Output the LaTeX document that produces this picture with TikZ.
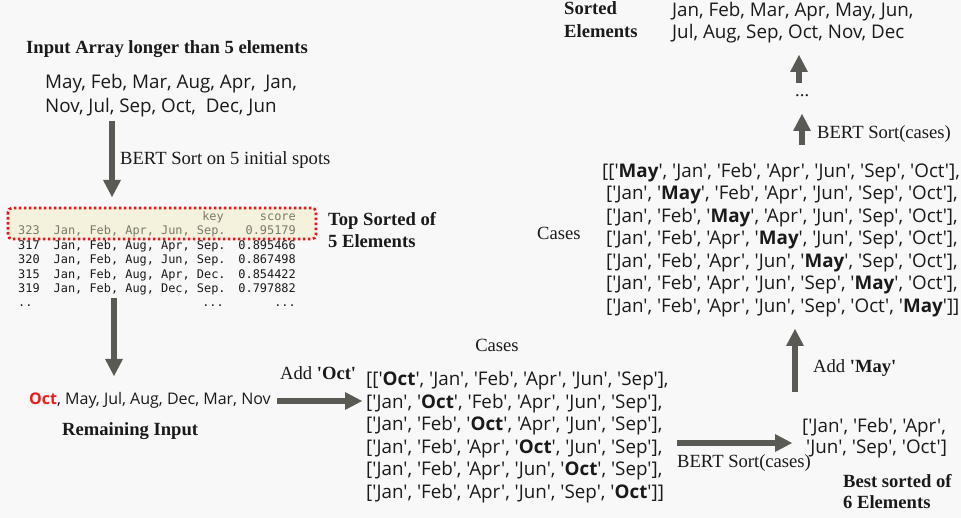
\documentclass[tikz,border=0pt]{standalone}
\usepackage{fontspec}
\setmainfont[Ligatures=TeXOff]{Liberation Serif}
\newfontfamily\listfont[Ligatures=TeXOff]{Open Sans}
\newfontfamily\tblfont[Ligatures=TeXOff]{DejaVu Sans Mono}
\usetikzlibrary{arrows.meta}
\definecolor{bg}{HTML}{F8F8F8}
\definecolor{ink}{HTML}{1A1A1A}
\definecolor{arrowgray}{HTML}{5A5A55}
\definecolor{octred}{HTML}{EE1C1C}
\definecolor{hlfill}{HTML}{F4F2DC}
\definecolor{hltext}{HTML}{7A7868}
\definecolor{dotred}{HTML}{E8141C}
\tikzset{
  lbl/.style={inner sep=0pt, anchor=base west, text=ink, font=\fontsize{18.6}{18}\selectfont},
  blbl/.style={lbl, font=\fontsize{18.6}{18}\selectfont\bfseries},
  lst/.style={inner sep=0pt, anchor=base west, text=ink, font=\listfont\fontsize{18.8}{22}\selectfont},
  tbl/.style={inner sep=0pt, anchor=base west, text=ink, font=\tblfont\fontsize{11.9}{14}\selectfont},
  tblr/.style={tbl, anchor=base east},
  bigarrow/.style={draw=arrowgray, line width=6pt, -{Triangle[width=18pt,length=17pt,line width=0pt]}},
  hlbox/.style={draw=dotred, fill=hlfill, line width=2.6pt, dash pattern=on 2.6pt off 2.4pt, rounded corners=4pt}
}
\begin{document}
\begin{tikzpicture}[x=1pt,y=-1pt]
\useasboundingbox (0,0) rectangle (961,518);
\fill[bg] (0,0) rectangle (961,518);

% input
\node[blbl] (title) at (26,54) {Input Array longer than 5 elements};
\node[lst] (in1) at (45,89) {May, Feb, Mar, Aug, Apr,\ \ Jan,};
\node[lst] (in2) at (45,113) {Nov, Jul, Sep, Oct,\ \ Dec, Jun};
\coordinate (a1s) at (112,121);
\coordinate (a1e) at (112,197);
\draw[bigarrow] (a1s) -- (a1e);
\node[lbl] (bs5) at (120,165) {BERT Sort on 5 initial spots};

% table
\draw[hlbox] (8,208) rectangle (316,239);
\node[tblr, text=hltext] (hkey) at (224,221) {key};
\node[tblr, text=hltext] (hscore) at (296,221) {score};
\node[tbl, text=hltext] (i1) at (18,235) {323};
\node[tbl, text=hltext] (m1) at (53.5,235) {Jan, Feb, Apr, Jun, Sep.};
\node[tblr, text=hltext] (s1) at (296,235) {0.95179};
\node[tbl] (i2) at (18,250) {317};
\node[tbl] (m2) at (53.5,250) {Jan, Feb, Aug, Apr, Sep.};
\node[tblr] (s2) at (296,250) {0.895466};
\node[tbl] (i3) at (18,264) {320};
\node[tbl] (m3) at (53.5,264) {Jan, Feb, Aug, Jun, Sep.};
\node[tblr] (s3) at (296,264) {0.867498};
\node[tbl] (i4) at (18,279) {315};
\node[tbl] (m4) at (53.5,279) {Jan, Feb, Aug, Apr, Dec.};
\node[tblr] (s4) at (296,279) {0.854422};
\node[tbl] (i5) at (18,293) {319};
\node[tbl] (m5) at (53.5,293) {Jan, Feb, Aug, Dec, Sep.};
\node[tblr] (s5) at (296,293) {0.797882};
\node[tbl] (i6) at (18,307) {..};
\node[tblr] (m6) at (224,307) {...};
\node[tblr] (s6) at (296,307) {...};
\node[blbl] (top1) at (328,226) {Top Sorted of};
\node[blbl] (top2) at (328,248) {5 Elements};

\coordinate (a2s) at (114,298);
\coordinate (a2e) at (114,376);
\draw[bigarrow] (a2s) -- (a2e);

% remaining
\node[lst, font=\listfont\fontsize{16}{18}\selectfont] (rem) at (29,404) {\textcolor{octred}{\bfseries Oct}, May, Jul, Aug, Dec, Mar, Nov};
\node[blbl] (remlbl) at (62,435) {Remaining Input};
\coordinate (a3s) at (277,401);
\coordinate (a3e) at (362,401);
\draw[bigarrow] (a3s) -- (a3e);
\node[lbl] (addoct) at (280,380) {Add \textbf{'Oct'}};

% cases (oct)
\node[lbl, anchor=base] (cases1) at (497,352) {Cases};
\node[lst] (c1) at (366,385) {[['\textbf{Oct}', 'Jan', 'Feb', 'Apr', 'Jun', 'Sep'],};
\node[lst] (c2) at (366,408) {['Jan', '\textbf{Oct}', 'Feb', 'Apr', 'Jun', 'Sep'],};
\node[lst] (c3) at (366,430) {['Jan', 'Feb', '\textbf{Oct}', 'Apr', 'Jun', 'Sep'],};
\node[lst] (c4) at (366,453) {['Jan', 'Feb', 'Apr', '\textbf{Oct}', 'Jun', 'Sep'],};
\node[lst] (c5) at (366,475) {['Jan', 'Feb', 'Apr', 'Jun', '\textbf{Oct}', 'Sep'],};
\node[lst] (c6) at (366,498) {['Jan', 'Feb', 'Apr', 'Jun', 'Sep', '\textbf{Oct}']]};

\coordinate (a4s) at (677,443);
\coordinate (a4e) at (792,443);
\draw[bigarrow] (a4s) -- (a4e);
\node[lbl] (bsc1) at (677,467) {BERT Sort(cases)};

% best 6
\node[lst] (b1) at (802,432) {['Jan', 'Feb', 'Apr',};
\node[lst] (b2) at (806,453) {'Jun', 'Sep', 'Oct']};
\node[blbl] (best1) at (843,487) {Best sorted of};
\node[blbl] (best2) at (843,508) {6 Elements};

\coordinate (a5s) at (795,392);
\coordinate (a5e) at (795,329);
\draw[bigarrow] (a5s) -- (a5e);
\node[lbl] (addmay) at (813,373) {Add \textbf{'May'}};

% cases (may)
\node[lbl] (cases2) at (537,240) {Cases};
\node[lst] (d1) at (602,178) {[['\textbf{May}', 'Jan', 'Feb', 'Apr', 'Jun', 'Sep', 'Oct'],};
\node[lst] (d2) at (606,200) {['Jan', '\textbf{May}', 'Feb', 'Apr', 'Jun', 'Sep', 'Oct'],};
\node[lst] (d3) at (606,223) {['Jan', 'Feb', '\textbf{May}', 'Apr', 'Jun', 'Sep', 'Oct'],};
\node[lst] (d4) at (606,245) {['Jan', 'Feb', 'Apr', '\textbf{May}', 'Jun', 'Sep', 'Oct'],};
\node[lst] (d5) at (606,268) {['Jan', 'Feb', 'Apr', 'Jun', '\textbf{May}', 'Sep', 'Oct'],};
\node[lst] (d6) at (606,290) {['Jan', 'Feb', 'Apr', 'Jun', 'Sep', '\textbf{May}', 'Oct'],};
\node[lst] (d7) at (606,313) {['Jan', 'Feb', 'Apr', 'Jun', 'Sep', 'Oct', '\textbf{May}']]};

\coordinate (a6s) at (802,145);
\coordinate (a6e) at (802,114);
\draw[bigarrow] (a6s) -- (a6e);
\node[lbl] (bsc2) at (817,139) {BERT Sort(cases)};
\node[lbl] (dots) at (795,97) {...};
\coordinate (a7s) at (799,83);
\coordinate (a7e) at (799,55);
\draw[bigarrow] (a7s) -- (a7e);

% sorted
\node[blbl] (sort1) at (564,15) {Sorted};
\node[blbl] (sort2) at (564,38) {Elements};
\node[lst] (o1) at (672,17) {Jan, Feb, Mar, Apr, May, Jun,};
\node[lst] (o2) at (672,39) {Jul, Aug, Sep, Oct, Nov, Dec};
\end{tikzpicture}
\end{document}
